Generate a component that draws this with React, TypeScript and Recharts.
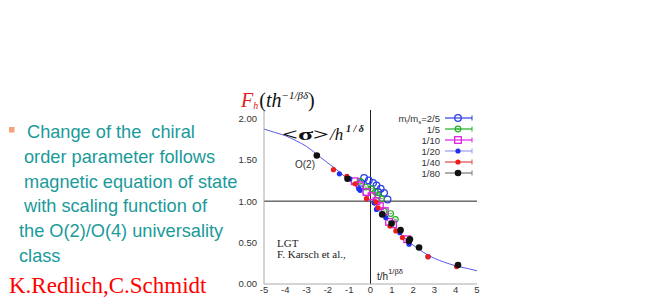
import React from 'react';
import {
  ComposedChart,
  Line,
  Scatter,
  XAxis,
  YAxis,
  ReferenceLine,
} from 'recharts';

// axis ticks
const xTicks = [-5, -4, -3, -2, -1, 0, 1, 2, 3, 4, 5];
const yTicks = [0, 0.5, 1, 1.5, 2];

// O(2) scaling curve
const curveX = [-5, -4.5, -4, -3.5, -3, -2.5, -2, -1.5, -1, -0.5, 0, 0.5, 1, 1.5, 2, 2.5, 3, 3.5, 4, 4.5, 5];
const curveY = [1.87, 1.83, 1.79, 1.73, 1.66, 1.56, 1.46, 1.36, 1.25, 1.13, 1.0, 0.86, 0.71, 0.58, 0.47, 0.38, 0.31, 0.26, 0.22, 0.19, 0.16];

// lattice points per quark mass ratio
const s25X = [-0.43, -0.3, -0.08, 0.12, 0.28, 0.36, 0.48, 0.64, 0.8];
const s25Y = [1.22, 1.28, 1.25, 1.22, 1.19, 1.11, 1.15, 1.1, 1.02];

const s5X = [-0.5, -0.23, 0.05, 0.23, 0.36, 0.52, 0.64, 0.95, 1.17];
const s5Y = [1.24, 1.17, 1.15, 1.11, 1.07, 1.03, 0.88, 0.85, 0.78];

const s10X = [-0.74, -0.5, -0.19, 0.05, 0.28, 0.44, 0.67, 0.87, 1.06, 1.72];
const s10Y = [1.24, 1.19, 1.11, 1.06, 1.0, 0.94, 0.88, 0.75, 0.72, 0.54];

const s20X = [-1.46, -0.97, -0.55, -0.49, 0.17, 0.28, 0.72, 1.38, 1.81, 2.7];
const s20Y = [1.33, 1.27, 1.15, 1.13, 0.98, 0.9, 0.8, 0.62, 0.48, 0.33];

const s40X = [-1.74, -1.11, -0.72, -0.19, 0.25, 0.36, 0.91, 1.19, 1.5, 2.7, 4.04];
const s40Y = [1.38, 1.3, 1.21, 1.03, 0.99, 0.92, 0.7, 0.64, 0.56, 0.33, 0.21];

const s80X = [-2.52, -1.08, 0.55, 0.99, 1.41, 1.8, 1.85, 2.28, 4.11];
const s80Y = [1.55, 1.27, 0.84, 0.73, 0.65, 0.52, 0.54, 0.44, 0.23];

const seriesNames = ['2/5', '1/5', '1/10', '1/20', '1/40', '1/80'];
const seriesColors = ['#2b3fe6', '#22b022', '#e020e0', '#2030f0', '#ee1c1c', '#111111'];
const lineColors = ['#2b3fe6', '#22b022', '#e020e0', '#9a9cf4', '#e04848', '#777777'];

const zip = (xs: number[], ys: number[]) => xs.map((x, i) => ({ x, y: ys[i] }));

const curve = zip(curveX, curveY);
const seriesData = [
  zip(s25X, s25Y),
  zip(s5X, s5Y),
  zip(s10X, s10Y),
  zip(s20X, s20Y),
  zip(s40X, s40Y),
  zip(s80X, s80Y),
];

const drawMarker = (i: number, cx: number, cy: number) => {
  const c = seriesColors[i];
  if (i === 0) return <circle cx={cx} cy={cy} r={3.3} fill="none" stroke={c} strokeWidth={1.3} />;
  if (i === 1)
    return (
      <g>
        <circle cx={cx} cy={cy} r={2.8} fill="none" stroke={c} strokeWidth={1.2} />
        <line x1={cx - 1.5} x2={cx + 1.5} y1={cy} y2={cy} stroke={c} strokeWidth={0.8} />
      </g>
    );
  if (i === 2) return <rect x={cx - 3.3} y={cy - 3.3} width={6.6} height={6.6} fill="none" stroke={c} strokeWidth={1.3} />;
  if (i === 3) return <circle cx={cx} cy={cy} r={2.6} fill={c} />;
  if (i === 4) return <circle cx={cx} cy={cy} r={2.6} fill={c} />;
  return <circle cx={cx} cy={cy} r={3.3} fill={c} />;
};

const teal = '#1a9a9a';

const App: React.FC = () => {
  return (
    <div style={{ position: 'absolute', left: 0, top: 0, width: 654, height: 301, background: '#fff' }}>
      <ComposedChart width={654} height={301} margin={{ top: 110, right: 177, left: 224, bottom: 3 }}>
        <XAxis
          dataKey="x"
          type="number"
          domain={[-5, 5]}
          ticks={xTicks}
          allowDataOverflow
          tickLine={false}
          tickSize={0}
          tickMargin={2}
          height={14}
          axisLine={{ stroke: '#aaaaaa' }}
          tick={{ fill: '#333', fontSize: 9.5, fontFamily: 'Liberation Sans, Arial' }}
        />
        <XAxis
          xAxisId="top"
          orientation="top"
          type="number"
          domain={[-5, 5]}
          ticks={xTicks}
          mirror
          tick={false}
          tickSize={3}
          height={0}
          axisLine={{ stroke: '#888888' }}
          tickLine={{ stroke: '#888888' }}
        />
        <YAxis
          dataKey="y"
          type="number"
          domain={[0, 2.1]}
          ticks={yTicks}
          allowDataOverflow
          width={40}
          tickLine={false}
          tickSize={0}
          tickMargin={7}
          axisLine={{ stroke: '#aaaaaa' }}
          tickFormatter={(v: number) => v.toFixed(2)}
          tick={{ fill: '#333', fontSize: 9.5, fontFamily: 'Liberation Sans, Arial' }}
        />
        <YAxis
          yAxisId="right"
          orientation="right"
          type="number"
          domain={[0, 2.1]}
          ticks={yTicks}
          mirror
          tick={false}
          tickSize={3}
          width={0}
          axisLine={{ stroke: '#888888' }}
          tickLine={{ stroke: '#888888' }}
        />
        <ReferenceLine y={1} stroke="#222" strokeWidth={1} />
        <ReferenceLine x={0} stroke="#222" strokeWidth={1} />
        <Line
          data={curve}
          dataKey="y"
          type="monotone"
          stroke="#5a5ae8"
          strokeWidth={1}
          dot={false}
          isAnimationActive={false}
        />
        {seriesData.map((d, i) => (
          <Scatter
            key={seriesNames[i]}
            data={d}
            fill={seriesColors[i]}
            isAnimationActive={false}
            shape={(p: any) => drawMarker(i, p.cx, p.cy)}
          />
        ))}
      </ComposedChart>

      <svg
        width={654}
        height={301}
        style={{ position: 'absolute', left: 0, top: 0, pointerEvents: 'none' }}
      >
        {/* slide text */}
        <rect x={9} y={127} width={5.5} height={5.5} fill="#f5a27a" />
        <g fill={teal} fontFamily="Liberation Sans, Arial" fontSize={18.2}>
          <text x={27} y={138} xmlSpace="preserve">{'Change of the  chiral'}</text>
          <text x={24} y={163}>order parameter follows</text>
          <text x={24} y={188}>magnetic equation of state</text>
          <text x={24} y={212}>with scaling function of</text>
          <text x={19} y={237}>the O(2)/O(4) universality</text>
          <text x={19} y={262}>class</text>
        </g>
        <text x={9} y={293} fill="#ff0000" fontFamily="Liberation Serif, Times New Roman" fontSize={23}>
          K.Redlich,C.Schmidt
        </text>

        {/* chart title */}
        <text x={241} y={107} fontFamily="Liberation Serif, Times New Roman" fontSize={20} fontStyle="italic">
          <tspan fill="#e02020">F</tspan>
          <tspan fill="#e02020" fontSize={10} dy={2}>h</tspan>
          <tspan fill="#111" dy={-2} dx={1} fontStyle="normal">(</tspan>
          <tspan fill="#111">th</tspan>
          <tspan fill="#111" fontSize={11} dy={-8}>−1/βδ</tspan>
          <tspan fill="#111" dy={8} fontStyle="normal">)</tspan>
        </text>

        {/* in-plot labels */}
        <text x={282} y={140} fontFamily="Liberation Serif, Times New Roman" fontSize={16} fontWeight="bold" fill="#111" textLength={47} lengthAdjust="spacingAndGlyphs">
          {'<σ>'}
        </text>
        <text x={330} y={140} fontFamily="Liberation Serif, Times New Roman" fontSize={17} fontStyle="italic" fill="#111">
          /h
        </text>
        <text x={346} y={132} fontFamily="Liberation Serif, Times New Roman" fontSize={10} fontStyle="italic" fontWeight="bold" fill="#111">
          1 / δ
        </text>
        <text x={295} y={168} fontFamily="Liberation Sans, Arial" fontSize={10} fill="#333">O(2)</text>
        <text x={277} y={247} fontFamily="Liberation Serif, Times New Roman" fontSize={11} fill="#222">LGT</text>
        <text x={277} y={258} fontFamily="Liberation Serif, Times New Roman" fontSize={11} fill="#222">F. Karsch et al.,</text>
        <text x={377} y={280} fontFamily="Liberation Sans, Arial" fontSize={10} fill="#222">
          t/h<tspan fontSize={7.5} dy={-6}>1/βδ</tspan>
        </text>

        {/* legend */}
        {seriesNames.map((name, i) => {
          const y = 118 + i * 11;
          return (
            <g key={name}>
              <text x={440} y={y + 3.5} textAnchor="end" fontFamily="Liberation Sans, Arial" fontSize={9.5} fill="#333">
                {i === 0 ? (
                  <>
                    m<tspan fontSize={6} dy={2}>l</tspan>
                    <tspan dy={-2}>/m</tspan>
                    <tspan fontSize={6} dy={2}>s</tspan>
                    <tspan dy={-2}>={name}</tspan>
                  </>
                ) : (
                  name
                )}
              </text>
              <line x1={445} x2={472} y1={y} y2={y} stroke={lineColors[i]} strokeWidth={1.2} />
              <line x1={472} x2={472} y1={y - 2.5} y2={y + 2.5} stroke={lineColors[i]} strokeWidth={1} />
              {drawMarker(i, 458, y)}
            </g>
          );
        })}
      </svg>
    </div>
  );
};

export default App;
